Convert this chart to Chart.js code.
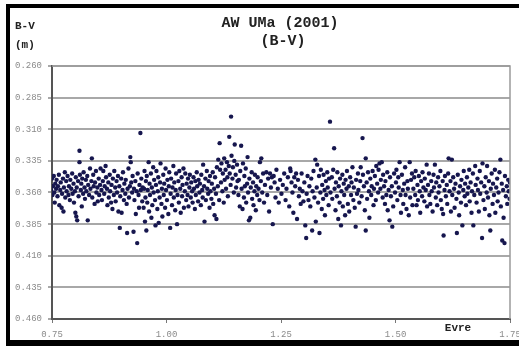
<!DOCTYPE html>
<html>
<head>
<meta charset="utf-8">
<script src="https://cdn.jsdelivr.net/npm/chart.js@4/dist/chart.umd.min.js"></script>
<style>
    html, body { margin: 0; padding: 0; background: #fff; }
    canvas { display: block; }
</style>
</head>
<body>
<canvas id="bvChart" width="519" height="349"></canvas>
<script>
// Axis ticks
const xTicks = [0.75, 1.00, 1.25, 1.50, 1.75];
const yTicks = [0.260, 0.285, 0.310, 0.335, 0.360, 0.385, 0.410, 0.435, 0.460];

const obsA = [
    [0.747,0.352],[0.748,0.358],[0.750,0.349],[0.751,0.362],[0.752,0.355],[0.754,0.347],[0.755,0.360],[0.756,0.368],
    [0.757,0.353],[0.759,0.357],[0.760,0.350],[0.762,0.363],[0.763,0.355],[0.765,0.346],[0.766,0.370],[0.768,0.358],
    [0.769,0.352],[0.771,0.372],[0.772,0.361],[0.774,0.349],[0.775,0.375],[0.776,0.356],[0.778,0.344],[0.779,0.364],
    [0.781,0.351],[0.782,0.359],[0.784,0.347],[0.786,0.362],[0.787,0.355],[0.789,0.366],[0.790,0.350],[0.792,0.357],
    [0.794,0.345],[0.795,0.361],[0.797,0.353],[0.798,0.368],[0.800,0.359],[0.801,0.376],[0.802,0.348],[0.803,0.379],
    [0.804,0.356],[0.805,0.382],[0.807,0.351],[0.808,0.363],[0.810,0.327],[0.810,0.336],[0.811,0.346],[0.813,0.358],
    [0.814,0.353],[0.815,0.371],[0.816,0.349],[0.818,0.361],[0.819,0.344],[0.821,0.356],[0.822,0.365],[0.824,0.350],
    [0.825,0.359],[0.827,0.347],[0.828,0.382],[0.829,0.354],[0.831,0.362],[0.833,0.341],[0.834,0.357],[0.836,0.351],
    [0.837,0.333],[0.838,0.364],[0.840,0.346],[0.841,0.355],[0.843,0.369],[0.844,0.352],[0.846,0.343],[0.847,0.360],
    [0.849,0.356],[0.850,0.367],[0.852,0.349],[0.853,0.362],[0.855,0.354],[0.856,0.341],[0.858,0.358],[0.859,0.366],
    [0.861,0.351],[0.862,0.343],[0.864,0.361],[0.865,0.355],[0.867,0.339],[0.868,0.348],[0.870,0.357],[0.871,0.370],
    [0.873,0.352],[0.874,0.364],[0.876,0.346],[0.877,0.359],[0.879,0.368],[0.880,0.354],[0.882,0.373],[0.883,0.349],
    [0.885,0.362],[0.886,0.343],[0.888,0.356],[0.889,0.367],[0.891,0.351],[0.892,0.360],[0.894,0.347],[0.895,0.375],
    [0.897,0.355],[0.898,0.388],[0.899,0.363],[0.901,0.349],[0.902,0.376],[0.904,0.358],[0.905,0.344],[0.907,0.366],
    [0.908,0.353],[0.910,0.361],[0.911,0.350],[0.913,0.369],[0.914,0.392],[0.915,0.357],[0.917,0.341],[0.918,0.364],
    [0.920,0.355],[0.921,0.332],[0.922,0.336],[0.923,0.352],[0.925,0.360],[0.926,0.347],[0.928,0.391],[0.929,0.357],
    [0.930,0.366],[0.932,0.351],[0.933,0.377],[0.935,0.359],[0.936,0.400],[0.937,0.345],[0.939,0.362],[0.940,0.372],
    [0.941,0.354],[0.943,0.313],[0.944,0.358],[0.945,0.349],[0.947,0.367],[0.948,0.356]
];
const obsB = [
    [0.950,0.372],[0.951,0.357],[0.952,0.343],[0.953,0.383],[0.954,0.364],[0.955,0.351],[0.956,0.390],[0.957,0.347],
    [0.958,0.368],[0.959,0.358],[0.961,0.336],[0.962,0.375],[0.963,0.353],[0.964,0.362],[0.966,0.345],[0.967,0.380],
    [0.968,0.356],[0.969,0.370],[0.971,0.340],[0.972,0.360],[0.973,0.350],[0.975,0.366],[0.976,0.386],[0.977,0.354],
    [0.978,0.343],[0.980,0.373],[0.981,0.359],[0.982,0.348],[0.983,0.384],[0.985,0.364],[0.986,0.352],[0.987,0.337],
    [0.989,0.369],[0.990,0.357],[0.991,0.379],[0.993,0.346],[0.994,0.362],[0.995,0.353],[0.997,0.372],[0.998,0.341],
    [0.999,0.358],[1.001,0.366],[1.002,0.350],[1.004,0.377],[1.005,0.355],[1.006,0.344],[1.008,0.388],[1.009,0.361],
    [1.010,0.349],[1.012,0.370],[1.013,0.356],[1.015,0.339],[1.016,0.364],[1.017,0.352],[1.019,0.374],[1.020,0.358],
    [1.021,0.345],[1.023,0.385],[1.024,0.362],[1.026,0.351],[1.027,0.368],[1.028,0.343],[1.030,0.357],[1.031,0.376],
    [1.033,0.348],[1.034,0.363],[1.035,0.354],[1.037,0.341],[1.038,0.372],[1.040,0.359],[1.041,0.345],[1.043,0.366],
    [1.044,0.353],[1.046,0.362],[1.047,0.349],[1.048,0.371],[1.050,0.356],[1.051,0.346],[1.053,0.364],[1.054,0.352],
    [1.056,0.359],[1.057,0.368],[1.059,0.348],[1.060,0.357],[1.062,0.373],[1.063,0.351],[1.064,0.362],[1.066,0.344],
    [1.067,0.355],[1.069,0.367],[1.070,0.350],[1.072,0.360],[1.073,0.353],[1.075,0.370],[1.076,0.346],[1.078,0.358],
    [1.079,0.364],[1.080,0.338],[1.082,0.355],[1.083,0.383],[1.085,0.349],[1.086,0.366],[1.088,0.343],[1.089,0.357],
    [1.091,0.361],[1.092,0.351],[1.094,0.372],[1.095,0.347],[1.096,0.359],[1.098,0.365],[1.099,0.353],[1.101,0.344],
    [1.102,0.369],[1.104,0.357],[1.105,0.378],[1.106,0.348],[1.108,0.361],[1.109,0.381],[1.110,0.340],[1.112,0.355],
    [1.113,0.334],[1.115,0.366],[1.116,0.321],[1.117,0.342],[1.119,0.352],[1.120,0.337],[1.122,0.359],[1.123,0.345],
    [1.125,0.368],[1.126,0.333],[1.127,0.350],[1.129,0.342],[1.130,0.357],[1.132,0.336],[1.133,0.348],[1.134,0.363],
    [1.136,0.339],[1.137,0.316],[1.138,0.345],[1.140,0.354],[1.141,0.300],[1.142,0.331],[1.144,0.349],[1.145,0.340],
    [1.147,0.360],[1.148,0.335],[1.149,0.322],[1.151,0.346],[1.152,0.356],[1.154,0.338],[1.155,0.351]
];
const obsC = [
    [1.157,0.362],[1.158,0.350],[1.160,0.371],[1.161,0.343],[1.163,0.323],[1.164,0.357],[1.166,0.373],[1.167,0.337],
    [1.169,0.364],[1.170,0.347],[1.171,0.355],[1.173,0.341],[1.174,0.368],[1.176,0.353],[1.177,0.332],[1.178,0.360],
    [1.180,0.382],[1.181,0.349],[1.183,0.380],[1.184,0.356],[1.186,0.344],[1.187,0.365],[1.189,0.352],[1.190,0.370],
    [1.192,0.359],[1.193,0.346],[1.195,0.374],[1.196,0.355],[1.198,0.362],[1.199,0.348],[1.201,0.357],[1.203,0.366],
    [1.204,0.336],[1.206,0.351],[1.207,0.333],[1.209,0.360],[1.211,0.345],[1.213,0.368],[1.215,0.354],[1.218,0.344],
    [1.220,0.362],[1.222,0.349],[1.224,0.375],[1.226,0.345],[1.228,0.356],[1.230,0.348],[1.232,0.385],[1.234,0.347],
    [1.236,0.352],[1.238,0.364],[1.240,0.342],[1.243,0.357],[1.245,0.368],[1.248,0.350],[1.251,0.361],[1.254,0.354],
    [1.257,0.345],[1.260,0.366],[1.262,0.357],[1.265,0.348],[1.268,0.371],[1.270,0.341],[1.271,0.343],[1.273,0.352],
    [1.275,0.360],[1.277,0.376],[1.279,0.348],[1.281,0.355],[1.283,0.345],[1.285,0.381],[1.287,0.350],[1.289,0.363],
    [1.291,0.357],[1.293,0.369],[1.295,0.345],[1.297,0.359],[1.299,0.367],[1.301,0.352],[1.303,0.386],[1.305,0.396],
    [1.306,0.361],[1.308,0.347],[1.310,0.366],[1.312,0.355],[1.314,0.371],[1.316,0.349],[1.318,0.390],[1.319,0.359],
    [1.321,0.343],[1.323,0.364],[1.325,0.334],[1.326,0.383],[1.328,0.356],[1.329,0.338],[1.331,0.368],[1.333,0.347],
    [1.334,0.392],[1.336,0.360],[1.337,0.342],[1.339,0.373],[1.340,0.354],[1.342,0.365],[1.343,0.346],[1.345,0.358],
    [1.346,0.378],[1.348,0.351],[1.349,0.362],[1.351,0.344],[1.352,0.356],[1.354,0.370],[1.355,0.349],[1.357,0.304],
    [1.358,0.360]
];
const obsD = [
    [1.361,0.348],[1.362,0.365],[1.364,0.342],[1.366,0.325],[1.367,0.357],[1.369,0.374],[1.370,0.352],[1.372,0.363],
    [1.373,0.344],[1.375,0.381],[1.376,0.355],[1.378,0.368],[1.379,0.349],[1.381,0.386],[1.382,0.359],[1.384,0.346],
    [1.385,0.371],[1.387,0.353],[1.388,0.362],[1.390,0.378],[1.391,0.350],[1.393,0.357],[1.394,0.343],[1.396,0.369],
    [1.398,0.355],[1.399,0.375],[1.401,0.348],[1.403,0.362],[1.404,0.352],[1.406,0.340],[1.408,0.366],[1.409,0.356],
    [1.411,0.372],[1.413,0.387],[1.414,0.350],[1.416,0.361],[1.418,0.345],[1.419,0.358],[1.421,0.368],[1.423,0.351],
    [1.424,0.340],[1.426,0.363],[1.428,0.317],[1.429,0.346],[1.431,0.355],[1.433,0.374],[1.435,0.333],[1.435,0.390],
    [1.437,0.352],[1.438,0.365],[1.440,0.344],[1.442,0.359],[1.443,0.380],[1.445,0.349],[1.447,0.362],[1.448,0.355],
    [1.450,0.343],[1.452,0.370],[1.453,0.357],[1.455,0.347],[1.457,0.366],[1.458,0.339],[1.460,0.353],[1.462,0.360],
    [1.463,0.342],[1.465,0.337],[1.467,0.357],[1.468,0.350],[1.470,0.336],[1.472,0.364],[1.473,0.346],[1.475,0.355],
    [1.477,0.369],[1.478,0.351],[1.480,0.362],[1.482,0.344],[1.483,0.374],[1.485,0.358],[1.487,0.382],[1.488,0.348],
    [1.490,0.363],[1.492,0.355],[1.493,0.387],[1.495,0.371],[1.497,0.345],[1.499,0.360],[1.501,0.352],[1.502,0.342],
    [1.504,0.366],[1.506,0.348],[1.507,0.356],[1.509,0.336],[1.511,0.362],[1.512,0.376],[1.514,0.346],[1.516,0.358],
    [1.517,0.369],[1.519,0.353],[1.521,0.340],[1.522,0.362],[1.524,0.373],[1.526,0.351],[1.527,0.357],[1.529,0.378],
    [1.531,0.336],[1.532,0.364],[1.534,0.350],[1.536,0.345],[1.537,0.370],[1.539,0.357],[1.541,0.348],[1.543,0.362],
    [1.544,0.343],[1.546,0.370],[1.548,0.354],[1.549,0.366],[1.551,0.347],[1.553,0.359],[1.554,0.376],[1.556,0.351],
    [1.558,0.363],[1.559,0.344],[1.561,0.356]
];
const obsE = [
    [1.563,0.367],[1.564,0.349],[1.566,0.358],[1.568,0.338],[1.569,0.371],[1.571,0.354],[1.573,0.345],[1.574,0.362],
    [1.576,0.369],[1.578,0.351],[1.579,0.359],[1.581,0.375],[1.583,0.346],[1.584,0.356],[1.586,0.338],[1.588,0.364],
    [1.589,0.352],[1.591,0.370],[1.593,0.348],[1.594,0.360],[1.596,0.355],[1.598,0.343],[1.599,0.366],[1.601,0.373],
    [1.603,0.351],[1.604,0.377],[1.605,0.394],[1.607,0.358],[1.608,0.347],[1.610,0.363],[1.612,0.354],[1.613,0.369],
    [1.615,0.345],[1.616,0.333],[1.618,0.359],[1.620,0.351],[1.621,0.375],[1.623,0.334],[1.624,0.362],[1.626,0.348],
    [1.628,0.357],[1.629,0.372],[1.631,0.353],[1.633,0.365],[1.634,0.392],[1.636,0.346],[1.638,0.360],[1.639,0.378],
    [1.641,0.355],[1.643,0.368],[1.644,0.350],[1.646,0.386],[1.648,0.358],[1.649,0.343],[1.651,0.363],[1.652,0.353],
    [1.654,0.370],[1.656,0.348],[1.657,0.361],[1.659,0.356],[1.661,0.342],[1.662,0.367],[1.664,0.352],[1.666,0.376],
    [1.667,0.359],[1.669,0.345],[1.670,0.386],[1.672,0.362],[1.674,0.339],[1.675,0.354],[1.677,0.368],[1.679,0.349],
    [1.680,0.358],[1.682,0.375],[1.684,0.343],[1.685,0.361],[1.687,0.352],[1.689,0.396],[1.690,0.337],[1.692,0.366],
    [1.694,0.355],[1.695,0.373],[1.697,0.348],[1.699,0.360],[1.700,0.339],[1.702,0.364],[1.704,0.351],[1.705,0.378],
    [1.707,0.390],[1.708,0.357],[1.710,0.345],[1.712,0.369],[1.713,0.353],[1.715,0.362],[1.717,0.342],[1.718,0.376],
    [1.720,0.356],[1.722,0.349],[1.723,0.367],[1.725,0.360],[1.727,0.344],[1.729,0.334],[1.730,0.371],[1.732,0.353],
    [1.733,0.398],[1.735,0.358],[1.736,0.380],[1.738,0.400],[1.739,0.347],[1.741,0.363],[1.743,0.355],[1.744,0.369],
    [1.746,0.350],[1.747,0.359],[1.749,0.365],[1.750,0.352]
];

const points = [...obsA, ...obsB, ...obsC, ...obsD, ...obsE].map(p => ({ x: p[0], y: p[1] }));

const mono = "'Liberation Mono', 'DejaVu Sans Mono', monospace";

// Frame, titles and axis captions drawn on top of the chart
const framePlugin = {
    id: 'frame',
    beforeDraw(chart) {
        const ctx = chart.ctx;
        ctx.save();
        ctx.fillStyle = '#ffffff';
        ctx.fillRect(0, 0, chart.width, chart.height);
        ctx.restore();
    },
    afterDraw(chart) {
        const ctx = chart.ctx;
        const a = chart.chartArea;
        ctx.save();

        // top and right edges of the plot area
        ctx.strokeStyle = '#9a9a9a';
        ctx.lineWidth = 1.5;
        ctx.beginPath();
        ctx.moveTo(a.left, a.top);
        ctx.lineTo(a.right, a.top);
        ctx.lineTo(a.right, a.bottom);
        ctx.stroke();

        // black outer frame
        ctx.fillStyle = '#000';
        ctx.fillRect(6, 4, 513, 4);
        ctx.fillRect(6, 4, 4, 342);
        ctx.fillRect(6, 340, 513, 6);

        ctx.fillStyle = '#222';
        ctx.font = 'bold 15px ' + mono;
        ctx.textAlign = 'center';
        ctx.fillText('AW UMa (2001)', 280, 27);
        ctx.fillText('(B-V)', 283, 45);

        ctx.font = 'bold 11px ' + mono;
        ctx.textAlign = 'left';
        ctx.fillText('B-V', 15, 29);
        ctx.fillText('(m)', 15, 48);

        ctx.textAlign = 'center';
        ctx.fillText('Evre', 458, 331);
        ctx.restore();
    }
};

const bvChart = new Chart(
    document.getElementById('bvChart'),
    {
        type: 'scatter',
        data: {
            datasets: [
                {
                    label: 'B-V',
                    data: points,
                    backgroundColor: '#16164e',
                    borderWidth: 0,
                    pointRadius: 2.2
                }
            ]
        },
        options: {
            responsive: false,
            animation: false,
            layout: {
                padding: { left: 0, right: 9, top: 66, bottom: 0 }
            },
            scales: {
                x: {
                    type: 'linear',
                    min: 0.75,
                    max: 1.75,
                    afterBuildTicks: axis => {
                        axis.ticks = xTicks.map(v => ({ value: v }));
                    },
                    afterFit: axis => {
                        axis.height = 30;
                        axis.paddingLeft = 0;
                        axis.paddingRight = 0;
                    },
                    ticks: {
                        callback: value => value.toFixed(2),
                        color: '#8a8a8a',
                        font: { family: mono, size: 9 },
                        padding: 6,
                        maxRotation: 0
                    },
                    grid: {
                        drawOnChartArea: false,
                        tickLength: 4,
                        color: '#777'
                    },
                    border: { color: '#555', width: 2 }
                },
                y: {
                    reverse: true,
                    min: 0.26,
                    max: 0.46,
                    afterBuildTicks: axis => {
                        axis.ticks = yTicks.map(v => ({ value: v }));
                    },
                    afterFit: axis => {
                        axis.width = 52;
                    },
                    ticks: {
                        callback: value => value.toFixed(3),
                        color: '#8a8a8a',
                        font: { family: mono, size: 9 },
                        padding: 6
                    },
                    grid: {
                        color: '#a8a8a8',
                        lineWidth: 2,
                        tickLength: 4
                    },
                    border: { color: '#555', width: 2 }
                }
            },
            plugins: {
                legend: { display: false },
                tooltip: { enabled: false }
            }
        },
        plugins: [framePlugin]
    }
);
</script>
</body>
</html>
